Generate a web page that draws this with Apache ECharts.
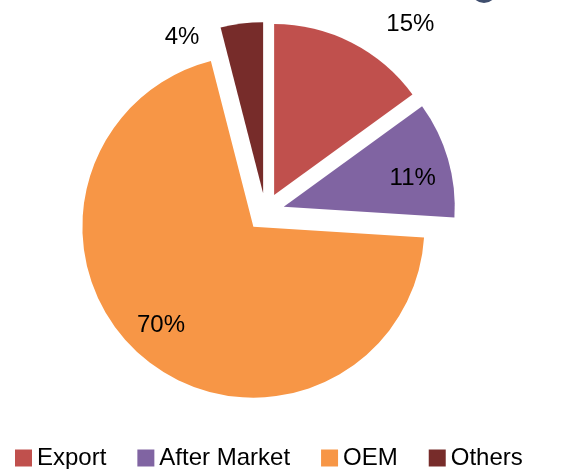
<!DOCTYPE html>
<html>
<head>
<meta charset="utf-8">
<script src="https://cdn.jsdelivr.net/npm/echarts@6/dist/echarts.min.js"></script>
<style>
  html, body { margin: 0; padding: 0; background: #fff; }
  #chart { width: 567px; height: 469px; }
</style>
</head>
<body>
<div id="chart"></div>
<script>
// datos del grafico
const categorias = ['Export', 'After Market', 'OEM', 'Others'];
const valores = [15, 11, 70, 4];
const colores = ['#C0504D', '#8064A2', '#F79646', '#772C2A'];

// desplazamiento de etiquetas (relativo a la posicion 'inside')
const labelShift = [[96, -92], [44, -4], [-36, 31], [-70, -68]];

const chart = echarts.init(document.getElementById('chart'));

const option = {
  animation: false,
  legend: {
    data: categorias,
    left: 10,
    top: 441,
    itemWidth: 17,
    itemHeight: 17,
    itemGap: 31,
    icon: 'rect',
    textStyle: { fontSize: 24, color: '#000', fontFamily: 'Liberation Sans' }
  },
  graphic: [{
    type: 'circle',
    shape: { cx: 484, cy: -10, r: 13 },
    style: { fill: '#3F4E6E' }
  }],
  series: [{
    type: 'pie',
    center: [265.5, 212],
    radius: 171,
    startAngle: 90,
    clockwise: true,
    selectedMode: 'multiple',
    selectedOffset: 19,
    avoidLabelOverlap: false,
    label: {
      show: true,
      position: 'inside',
      formatter: '{d}%',
      fontSize: 24,
      color: '#000',
      fontFamily: 'Liberation Sans'
    },
    labelLine: { show: false },
    labelLayout: function (p) {
      const s = labelShift[p.dataIndex];
      return { dx: s[0], dy: s[1] };
    },
    itemStyle: { borderWidth: 0 },
    select: { itemStyle: { borderWidth: 0 } },
    emphasis: { disabled: true },
    data: categorias.map((c, i) => ({
      name: c,
      value: valores[i],
      selected: true,
      itemStyle: { color: colores[i] }
    }))
  }]
};

chart.setOption(option);
</script>
</body>
</html>
